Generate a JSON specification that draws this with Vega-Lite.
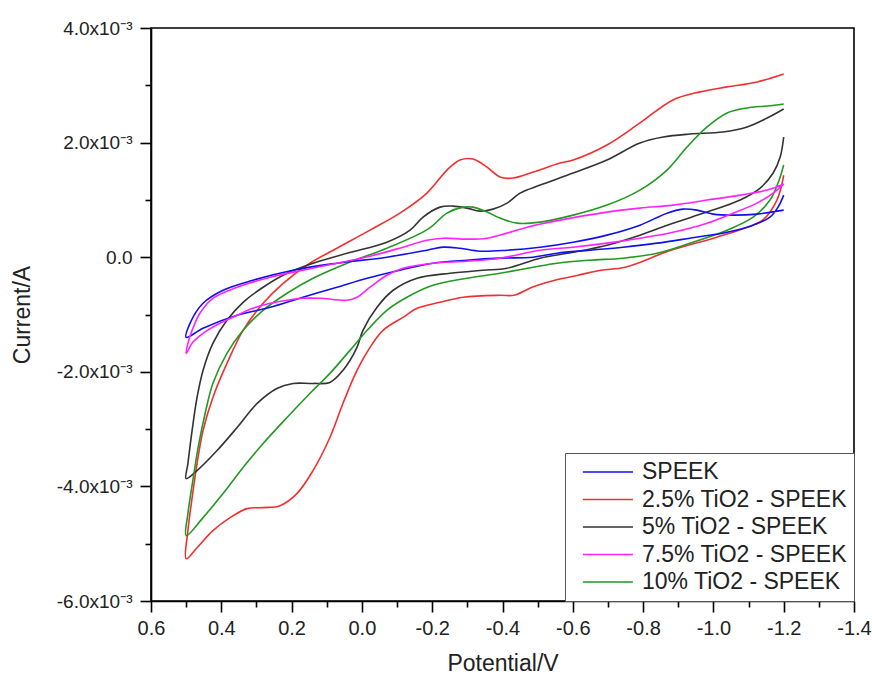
{
  "$schema": "https://vega.github.io/schema/vega-lite/v6.json",
  "width": 703,
  "height": 573,
  "autosize": {"type": "none"},
  "padding": {"left": 151, "top": 28, "right": 18, "bottom": 79},
  "background": "white",
  "config": {
    "font": "Liberation Sans",
    "view": {"stroke": "#000000", "strokeWidth": 1.6},
    "axis": {"grid": false, "domainColor": "#000000", "tickColor": "#000000", "labelColor": "#222222", "titleColor": "#222222", "labelFont": "Liberation Sans", "titleFont": "Liberation Sans", "titleFontWeight": "normal"}
  },
  "data": {"values": [
    {"s":"2.5% TiO2 - SPEEK","o":1,"x":-1.2,"y":0.00143},
    {"s":"2.5% TiO2 - SPEEK","o":2,"x":-1.181,"y":0.001},
    {"s":"2.5% TiO2 - SPEEK","o":3,"x":-1.141,"y":0.00065},
    {"s":"2.5% TiO2 - SPEEK","o":4,"x":-1.09,"y":0.00051},
    {"s":"2.5% TiO2 - SPEEK","o":5,"x":-1.01,"y":0.00035},
    {"s":"2.5% TiO2 - SPEEK","o":6,"x":-0.879,"y":0.00012},
    {"s":"2.5% TiO2 - SPEEK","o":7,"x":-0.749,"y":-0.000175},
    {"s":"2.5% TiO2 - SPEEK","o":8,"x":-0.68,"y":-0.000227},
    {"s":"2.5% TiO2 - SPEEK","o":9,"x":-0.615,"y":-0.000315},
    {"s":"2.5% TiO2 - SPEEK","o":10,"x":-0.549,"y":-0.000402},
    {"s":"2.5% TiO2 - SPEEK","o":11,"x":-0.484,"y":-0.000524},
    {"s":"2.5% TiO2 - SPEEK","o":12,"x":-0.433,"y":-0.000664},
    {"s":"2.5% TiO2 - SPEEK","o":13,"x":-0.393,"y":-0.000664},
    {"s":"2.5% TiO2 - SPEEK","o":14,"x":-0.288,"y":-0.000699},
    {"s":"2.5% TiO2 - SPEEK","o":15,"x":-0.222,"y":-0.000787},
    {"s":"2.5% TiO2 - SPEEK","o":16,"x":-0.157,"y":-0.000892},
    {"s":"2.5% TiO2 - SPEEK","o":17,"x":-0.117,"y":-0.001049},
    {"s":"2.5% TiO2 - SPEEK","o":18,"x":-0.06,"y":-0.001276},
    {"s":"2.5% TiO2 - SPEEK","o":19,"x":-0.023,"y":-0.001573},
    {"s":"2.5% TiO2 - SPEEK","o":20,"x":0.014,"y":-0.001976},
    {"s":"2.5% TiO2 - SPEEK","o":21,"x":0.054,"y":-0.002552},
    {"s":"2.5% TiO2 - SPEEK","o":22,"x":0.091,"y":-0.003147},
    {"s":"2.5% TiO2 - SPEEK","o":23,"x":0.139,"y":-0.003724},
    {"s":"2.5% TiO2 - SPEEK","o":24,"x":0.185,"y":-0.004126},
    {"s":"2.5% TiO2 - SPEEK","o":25,"x":0.233,"y":-0.004336},
    {"s":"2.5% TiO2 - SPEEK","o":26,"x":0.281,"y":-0.004371},
    {"s":"2.5% TiO2 - SPEEK","o":27,"x":0.327,"y":-0.004388},
    {"s":"2.5% TiO2 - SPEEK","o":28,"x":0.375,"y":-0.004545},
    {"s":"2.5% TiO2 - SPEEK","o":29,"x":0.424,"y":-0.004773},
    {"s":"2.5% TiO2 - SPEEK","o":30,"x":0.469,"y":-0.00507},
    {"s":"2.5% TiO2 - SPEEK","o":31,"x":0.5,"y":-0.005262},
    {"s":"2.5% TiO2 - SPEEK","o":32,"x":0.495,"y":-0.004773},
    {"s":"2.5% TiO2 - SPEEK","o":33,"x":0.483,"y":-0.004196},
    {"s":"2.5% TiO2 - SPEEK","o":34,"x":0.469,"y":-0.003601},
    {"s":"2.5% TiO2 - SPEEK","o":35,"x":0.452,"y":-0.003024},
    {"s":"2.5% TiO2 - SPEEK","o":36,"x":0.424,"y":-0.002448},
    {"s":"2.5% TiO2 - SPEEK","o":37,"x":0.384,"y":-0.001853},
    {"s":"2.5% TiO2 - SPEEK","o":38,"x":0.338,"y":-0.001276},
    {"s":"2.5% TiO2 - SPEEK","o":39,"x":0.281,"y":-0.000804},
    {"s":"2.5% TiO2 - SPEEK","o":40,"x":0.224,"y":-0.000455},
    {"s":"2.5% TiO2 - SPEEK","o":41,"x":0.148,"y":-0.000105},
    {"s":"2.5% TiO2 - SPEEK","o":42,"x":0.071,"y":0.000157},
    {"s":"2.5% TiO2 - SPEEK","o":43,"x":-0.023,"y":0.000472},
    {"s":"2.5% TiO2 - SPEEK","o":44,"x":-0.108,"y":0.000769},
    {"s":"2.5% TiO2 - SPEEK","o":45,"x":-0.185,"y":0.001119},
    {"s":"2.5% TiO2 - SPEEK","o":46,"x":-0.242,"y":0.001521},
    {"s":"2.5% TiO2 - SPEEK","o":47,"x":-0.279,"y":0.001696},
    {"s":"2.5% TiO2 - SPEEK","o":48,"x":-0.316,"y":0.001713},
    {"s":"2.5% TiO2 - SPEEK","o":49,"x":-0.356,"y":0.001573},
    {"s":"2.5% TiO2 - SPEEK","o":50,"x":-0.393,"y":0.001399},
    {"s":"2.5% TiO2 - SPEEK","o":51,"x":-0.43,"y":0.001381},
    {"s":"2.5% TiO2 - SPEEK","o":52,"x":-0.487,"y":0.001486},
    {"s":"2.5% TiO2 - SPEEK","o":53,"x":-0.564,"y":0.001643},
    {"s":"2.5% TiO2 - SPEEK","o":54,"x":-0.601,"y":0.001696},
    {"s":"2.5% TiO2 - SPEEK","o":55,"x":-0.697,"y":0.001958},
    {"s":"2.5% TiO2 - SPEEK","o":56,"x":-0.791,"y":0.002343},
    {"s":"2.5% TiO2 - SPEEK","o":57,"x":-0.885,"y":0.002745},
    {"s":"2.5% TiO2 - SPEEK","o":58,"x":-0.962,"y":0.002885},
    {"s":"2.5% TiO2 - SPEEK","o":59,"x":-1.039,"y":0.002972},
    {"s":"2.5% TiO2 - SPEEK","o":60,"x":-1.124,"y":0.003059},
    {"s":"2.5% TiO2 - SPEEK","o":61,"x":-1.2,"y":0.003199},

    {"s":"5% TiO2 - SPEEK","o":1,"x":-1.2,"y":0.002098},
    {"s":"5% TiO2 - SPEEK","o":2,"x":-1.19,"y":0.001748},
    {"s":"5% TiO2 - SPEEK","o":3,"x":-1.17,"y":0.001469},
    {"s":"5% TiO2 - SPEEK","o":4,"x":-1.133,"y":0.001206},
    {"s":"5% TiO2 - SPEEK","o":5,"x":-1.076,"y":0.000997},
    {"s":"5% TiO2 - SPEEK","o":6,"x":-0.982,"y":0.000787},
    {"s":"5% TiO2 - SPEEK","o":7,"x":-0.885,"y":0.000594},
    {"s":"5% TiO2 - SPEEK","o":8,"x":-0.791,"y":0.000385},
    {"s":"5% TiO2 - SPEEK","o":9,"x":-0.697,"y":0.00021},
    {"s":"5% TiO2 - SPEEK","o":10,"x":-0.601,"y":0.000087},
    {"s":"5% TiO2 - SPEEK","o":11,"x":-0.507,"y":-0.000017},
    {"s":"5% TiO2 - SPEEK","o":12,"x":-0.413,"y":-0.000192},
    {"s":"5% TiO2 - SPEEK","o":13,"x":-0.345,"y":-0.000227},
    {"s":"5% TiO2 - SPEEK","o":14,"x":-0.251,"y":-0.00028},
    {"s":"5% TiO2 - SPEEK","o":15,"x":-0.157,"y":-0.000367},
    {"s":"5% TiO2 - SPEEK","o":16,"x":-0.089,"y":-0.000577},
    {"s":"5% TiO2 - SPEEK","o":17,"x":-0.043,"y":-0.000874},
    {"s":"5% TiO2 - SPEEK","o":18,"x":-0.003,"y":-0.001276},
    {"s":"5% TiO2 - SPEEK","o":19,"x":0.014,"y":-0.001573},
    {"s":"5% TiO2 - SPEEK","o":20,"x":0.054,"y":-0.001976},
    {"s":"5% TiO2 - SPEEK","o":21,"x":0.091,"y":-0.002185},
    {"s":"5% TiO2 - SPEEK","o":22,"x":0.139,"y":-0.002203},
    {"s":"5% TiO2 - SPEEK","o":23,"x":0.196,"y":-0.002203},
    {"s":"5% TiO2 - SPEEK","o":24,"x":0.242,"y":-0.00229},
    {"s":"5% TiO2 - SPEEK","o":25,"x":0.298,"y":-0.002552},
    {"s":"5% TiO2 - SPEEK","o":26,"x":0.355,"y":-0.002972},
    {"s":"5% TiO2 - SPEEK","o":27,"x":0.412,"y":-0.003374},
    {"s":"5% TiO2 - SPEEK","o":28,"x":0.469,"y":-0.003724},
    {"s":"5% TiO2 - SPEEK","o":29,"x":0.5,"y":-0.003864},
    {"s":"5% TiO2 - SPEEK","o":30,"x":0.495,"y":-0.003601},
    {"s":"5% TiO2 - SPEEK","o":31,"x":0.483,"y":-0.003024},
    {"s":"5% TiO2 - SPEEK","o":32,"x":0.469,"y":-0.002448},
    {"s":"5% TiO2 - SPEEK","o":33,"x":0.452,"y":-0.001976},
    {"s":"5% TiO2 - SPEEK","o":34,"x":0.424,"y":-0.001503},
    {"s":"5% TiO2 - SPEEK","o":35,"x":0.384,"y":-0.001101},
    {"s":"5% TiO2 - SPEEK","o":36,"x":0.338,"y":-0.000787},
    {"s":"5% TiO2 - SPEEK","o":37,"x":0.281,"y":-0.000524},
    {"s":"5% TiO2 - SPEEK","o":38,"x":0.213,"y":-0.00028},
    {"s":"5% TiO2 - SPEEK","o":39,"x":0.139,"y":-0.000105},
    {"s":"5% TiO2 - SPEEK","o":40,"x":0.042,"y":0.00007},
    {"s":"5% TiO2 - SPEEK","o":41,"x":-0.071,"y":0.000262},
    {"s":"5% TiO2 - SPEEK","o":42,"x":-0.137,"y":0.000472},
    {"s":"5% TiO2 - SPEEK","o":43,"x":-0.174,"y":0.000699},
    {"s":"5% TiO2 - SPEEK","o":44,"x":-0.222,"y":0.000874},
    {"s":"5% TiO2 - SPEEK","o":45,"x":-0.259,"y":0.000892},
    {"s":"5% TiO2 - SPEEK","o":46,"x":-0.299,"y":0.000857},
    {"s":"5% TiO2 - SPEEK","o":47,"x":-0.336,"y":0.000804},
    {"s":"5% TiO2 - SPEEK","o":48,"x":-0.373,"y":0.000839},
    {"s":"5% TiO2 - SPEEK","o":49,"x":-0.413,"y":0.000944},
    {"s":"5% TiO2 - SPEEK","o":50,"x":-0.45,"y":0.001119},
    {"s":"5% TiO2 - SPEEK","o":51,"x":-0.507,"y":0.001259},
    {"s":"5% TiO2 - SPEEK","o":52,"x":-0.601,"y":0.001469},
    {"s":"5% TiO2 - SPEEK","o":53,"x":-0.697,"y":0.001696},
    {"s":"5% TiO2 - SPEEK","o":54,"x":-0.791,"y":0.001993},
    {"s":"5% TiO2 - SPEEK","o":55,"x":-0.857,"y":0.002098},
    {"s":"5% TiO2 - SPEEK","o":56,"x":-0.933,"y":0.00215},
    {"s":"5% TiO2 - SPEEK","o":57,"x":-1.027,"y":0.002185},
    {"s":"5% TiO2 - SPEEK","o":58,"x":-1.096,"y":0.002273},
    {"s":"5% TiO2 - SPEEK","o":59,"x":-1.153,"y":0.00243},
    {"s":"5% TiO2 - SPEEK","o":60,"x":-1.2,"y":0.002587},

    {"s":"10% TiO2 - SPEEK","o":1,"x":-1.2,"y":0.001608},
    {"s":"10% TiO2 - SPEEK","o":2,"x":-1.184,"y":0.001294},
    {"s":"10% TiO2 - SPEEK","o":3,"x":-1.161,"y":0.000997},
    {"s":"10% TiO2 - SPEEK","o":4,"x":-1.113,"y":0.000699},
    {"s":"10% TiO2 - SPEEK","o":5,"x":-1.039,"y":0.000472},
    {"s":"10% TiO2 - SPEEK","o":6,"x":-0.933,"y":0.000245},
    {"s":"10% TiO2 - SPEEK","o":7,"x":-0.84,"y":0.00007},
    {"s":"10% TiO2 - SPEEK","o":8,"x":-0.743,"y":-0.000017},
    {"s":"10% TiO2 - SPEEK","o":9,"x":-0.649,"y":-0.000052},
    {"s":"10% TiO2 - SPEEK","o":10,"x":-0.555,"y":-0.000105},
    {"s":"10% TiO2 - SPEEK","o":11,"x":-0.487,"y":-0.000175},
    {"s":"10% TiO2 - SPEEK","o":12,"x":-0.393,"y":-0.00028},
    {"s":"10% TiO2 - SPEEK","o":13,"x":-0.299,"y":-0.000367},
    {"s":"10% TiO2 - SPEEK","o":14,"x":-0.202,"y":-0.00049},
    {"s":"10% TiO2 - SPEEK","o":15,"x":-0.128,"y":-0.000699},
    {"s":"10% TiO2 - SPEEK","o":16,"x":-0.071,"y":-0.000927},
    {"s":"10% TiO2 - SPEEK","o":17,"x":-0.015,"y":-0.001276},
    {"s":"10% TiO2 - SPEEK","o":18,"x":0.034,"y":-0.001626},
    {"s":"10% TiO2 - SPEEK","o":19,"x":0.091,"y":-0.002028},
    {"s":"10% TiO2 - SPEEK","o":20,"x":0.148,"y":-0.002378},
    {"s":"10% TiO2 - SPEEK","o":21,"x":0.213,"y":-0.002797},
    {"s":"10% TiO2 - SPEEK","o":22,"x":0.281,"y":-0.003252},
    {"s":"10% TiO2 - SPEEK","o":23,"x":0.338,"y":-0.003671},
    {"s":"10% TiO2 - SPEEK","o":24,"x":0.395,"y":-0.004126},
    {"s":"10% TiO2 - SPEEK","o":25,"x":0.452,"y":-0.004545},
    {"s":"10% TiO2 - SPEEK","o":26,"x":0.5,"y":-0.00486},
    {"s":"10% TiO2 - SPEEK","o":27,"x":0.495,"y":-0.004476},
    {"s":"10% TiO2 - SPEEK","o":28,"x":0.481,"y":-0.003899},
    {"s":"10% TiO2 - SPEEK","o":29,"x":0.466,"y":-0.003322},
    {"s":"10% TiO2 - SPEEK","o":30,"x":0.446,"y":-0.002727},
    {"s":"10% TiO2 - SPEEK","o":31,"x":0.424,"y":-0.002203},
    {"s":"10% TiO2 - SPEEK","o":32,"x":0.384,"y":-0.001678},
    {"s":"10% TiO2 - SPEEK","o":33,"x":0.338,"y":-0.001276},
    {"s":"10% TiO2 - SPEEK","o":34,"x":0.281,"y":-0.000927},
    {"s":"10% TiO2 - SPEEK","o":35,"x":0.213,"y":-0.000629},
    {"s":"10% TiO2 - SPEEK","o":36,"x":0.139,"y":-0.000367},
    {"s":"10% TiO2 - SPEEK","o":37,"x":0.042,"y":-0.000105},
    {"s":"10% TiO2 - SPEEK","o":38,"x":-0.071,"y":0.000157},
    {"s":"10% TiO2 - SPEEK","o":39,"x":-0.188,"y":0.00049},
    {"s":"10% TiO2 - SPEEK","o":40,"x":-0.242,"y":0.000769},
    {"s":"10% TiO2 - SPEEK","o":41,"x":-0.288,"y":0.000874},
    {"s":"10% TiO2 - SPEEK","o":42,"x":-0.316,"y":0.000874},
    {"s":"10% TiO2 - SPEEK","o":43,"x":-0.356,"y":0.000787},
    {"s":"10% TiO2 - SPEEK","o":44,"x":-0.393,"y":0.000682},
    {"s":"10% TiO2 - SPEEK","o":45,"x":-0.441,"y":0.000594},
    {"s":"10% TiO2 - SPEEK","o":46,"x":-0.507,"y":0.000612},
    {"s":"10% TiO2 - SPEEK","o":47,"x":-0.601,"y":0.000734},
    {"s":"10% TiO2 - SPEEK","o":48,"x":-0.697,"y":0.000909},
    {"s":"10% TiO2 - SPEEK","o":49,"x":-0.791,"y":0.001171},
    {"s":"10% TiO2 - SPEEK","o":50,"x":-0.868,"y":0.001521},
    {"s":"10% TiO2 - SPEEK","o":51,"x":-0.925,"y":0.001923},
    {"s":"10% TiO2 - SPEEK","o":52,"x":-0.982,"y":0.002273},
    {"s":"10% TiO2 - SPEEK","o":53,"x":-1.039,"y":0.002517},
    {"s":"10% TiO2 - SPEEK","o":54,"x":-1.096,"y":0.002605},
    {"s":"10% TiO2 - SPEEK","o":55,"x":-1.153,"y":0.00264},
    {"s":"10% TiO2 - SPEEK","o":56,"x":-1.2,"y":0.002675},

    {"s":"SPEEK","o":1,"x":-1.2,"y":0.001084},
    {"s":"SPEEK","o":2,"x":-1.184,"y":0.000874},
    {"s":"SPEEK","o":3,"x":-1.161,"y":0.000699},
    {"s":"SPEEK","o":4,"x":-1.113,"y":0.000559},
    {"s":"SPEEK","o":5,"x":-1.039,"y":0.000437},
    {"s":"SPEEK","o":6,"x":-0.933,"y":0.000332},
    {"s":"SPEEK","o":7,"x":-0.84,"y":0.000245},
    {"s":"SPEEK","o":8,"x":-0.743,"y":0.000175},
    {"s":"SPEEK","o":9,"x":-0.649,"y":0.000122},
    {"s":"SPEEK","o":10,"x":-0.555,"y":0.00007},
    {"s":"SPEEK","o":11,"x":-0.487,"y":0.0},
    {"s":"SPEEK","o":12,"x":-0.393,"y":-0.000017},
    {"s":"SPEEK","o":13,"x":-0.299,"y":-0.000052},
    {"s":"SPEEK","o":14,"x":-0.202,"y":-0.000105},
    {"s":"SPEEK","o":15,"x":-0.108,"y":-0.000227},
    {"s":"SPEEK","o":16,"x":-0.015,"y":-0.000367},
    {"s":"SPEEK","o":17,"x":0.071,"y":-0.000524},
    {"s":"SPEEK","o":18,"x":0.168,"y":-0.000699},
    {"s":"SPEEK","o":19,"x":0.261,"y":-0.000874},
    {"s":"SPEEK","o":20,"x":0.355,"y":-0.001014},
    {"s":"SPEEK","o":21,"x":0.452,"y":-0.001241},
    {"s":"SPEEK","o":22,"x":0.5,"y":-0.001399},
    {"s":"SPEEK","o":23,"x":0.489,"y":-0.001154},
    {"s":"SPEEK","o":24,"x":0.452,"y":-0.000804},
    {"s":"SPEEK","o":25,"x":0.395,"y":-0.000577},
    {"s":"SPEEK","o":26,"x":0.31,"y":-0.000402},
    {"s":"SPEEK","o":27,"x":0.196,"y":-0.000227},
    {"s":"SPEEK","o":28,"x":0.071,"y":-0.000105},
    {"s":"SPEEK","o":29,"x":-0.071,"y":0.0},
    {"s":"SPEEK","o":30,"x":-0.185,"y":0.000122},
    {"s":"SPEEK","o":31,"x":-0.231,"y":0.000175},
    {"s":"SPEEK","o":32,"x":-0.279,"y":0.000157},
    {"s":"SPEEK","o":33,"x":-0.336,"y":0.000105},
    {"s":"SPEEK","o":34,"x":-0.413,"y":0.000122},
    {"s":"SPEEK","o":35,"x":-0.507,"y":0.000175},
    {"s":"SPEEK","o":36,"x":-0.601,"y":0.000262},
    {"s":"SPEEK","o":37,"x":-0.697,"y":0.000385},
    {"s":"SPEEK","o":38,"x":-0.791,"y":0.000559},
    {"s":"SPEEK","o":39,"x":-0.868,"y":0.000769},
    {"s":"SPEEK","o":40,"x":-0.913,"y":0.000839},
    {"s":"SPEEK","o":41,"x":-0.953,"y":0.000822},
    {"s":"SPEEK","o":42,"x":-0.999,"y":0.000752},
    {"s":"SPEEK","o":43,"x":-1.056,"y":0.000734},
    {"s":"SPEEK","o":44,"x":-1.124,"y":0.000752},
    {"s":"SPEEK","o":45,"x":-1.2,"y":0.000822},

    {"s":"7.5% TiO2 - SPEEK","o":1,"x":-1.2,"y":0.001276},
    {"s":"7.5% TiO2 - SPEEK","o":2,"x":-1.17,"y":0.001119},
    {"s":"7.5% TiO2 - SPEEK","o":3,"x":-1.124,"y":0.000944},
    {"s":"7.5% TiO2 - SPEEK","o":4,"x":-1.056,"y":0.000769},
    {"s":"7.5% TiO2 - SPEEK","o":5,"x":-0.982,"y":0.000594},
    {"s":"7.5% TiO2 - SPEEK","o":6,"x":-0.885,"y":0.000437},
    {"s":"7.5% TiO2 - SPEEK","o":7,"x":-0.791,"y":0.000332},
    {"s":"7.5% TiO2 - SPEEK","o":8,"x":-0.697,"y":0.000245},
    {"s":"7.5% TiO2 - SPEEK","o":9,"x":-0.601,"y":0.000175},
    {"s":"7.5% TiO2 - SPEEK","o":10,"x":-0.507,"y":0.000122},
    {"s":"7.5% TiO2 - SPEEK","o":11,"x":-0.393,"y":-0.000017},
    {"s":"7.5% TiO2 - SPEEK","o":12,"x":-0.299,"y":-0.00007},
    {"s":"7.5% TiO2 - SPEEK","o":13,"x":-0.202,"y":-0.000105},
    {"s":"7.5% TiO2 - SPEEK","o":14,"x":-0.117,"y":-0.000192},
    {"s":"7.5% TiO2 - SPEEK","o":15,"x":-0.071,"y":-0.000315},
    {"s":"7.5% TiO2 - SPEEK","o":16,"x":-0.023,"y":-0.000524},
    {"s":"7.5% TiO2 - SPEEK","o":17,"x":0.014,"y":-0.000699},
    {"s":"7.5% TiO2 - SPEEK","o":18,"x":0.042,"y":-0.000752},
    {"s":"7.5% TiO2 - SPEEK","o":19,"x":0.119,"y":-0.000717},
    {"s":"7.5% TiO2 - SPEEK","o":20,"x":0.168,"y":-0.000717},
    {"s":"7.5% TiO2 - SPEEK","o":21,"x":0.213,"y":-0.000752},
    {"s":"7.5% TiO2 - SPEEK","o":22,"x":0.261,"y":-0.000804},
    {"s":"7.5% TiO2 - SPEEK","o":23,"x":0.31,"y":-0.000892},
    {"s":"7.5% TiO2 - SPEEK","o":24,"x":0.355,"y":-0.001014},
    {"s":"7.5% TiO2 - SPEEK","o":25,"x":0.404,"y":-0.001154},
    {"s":"7.5% TiO2 - SPEEK","o":26,"x":0.452,"y":-0.001329},
    {"s":"7.5% TiO2 - SPEEK","o":27,"x":0.481,"y":-0.001486},
    {"s":"7.5% TiO2 - SPEEK","o":28,"x":0.5,"y":-0.001678},
    {"s":"7.5% TiO2 - SPEEK","o":29,"x":0.495,"y":-0.001503},
    {"s":"7.5% TiO2 - SPEEK","o":30,"x":0.483,"y":-0.001276},
    {"s":"7.5% TiO2 - SPEEK","o":31,"x":0.461,"y":-0.000979},
    {"s":"7.5% TiO2 - SPEEK","o":32,"x":0.424,"y":-0.000717},
    {"s":"7.5% TiO2 - SPEEK","o":33,"x":0.355,"y":-0.000524},
    {"s":"7.5% TiO2 - SPEEK","o":34,"x":0.261,"y":-0.00035},
    {"s":"7.5% TiO2 - SPEEK","o":35,"x":0.168,"y":-0.000227},
    {"s":"7.5% TiO2 - SPEEK","o":36,"x":0.071,"y":-0.000105},
    {"s":"7.5% TiO2 - SPEEK","o":37,"x":-0.023,"y":0.000017},
    {"s":"7.5% TiO2 - SPEEK","o":38,"x":-0.117,"y":0.000175},
    {"s":"7.5% TiO2 - SPEEK","o":39,"x":-0.185,"y":0.000297},
    {"s":"7.5% TiO2 - SPEEK","o":40,"x":-0.231,"y":0.000332},
    {"s":"7.5% TiO2 - SPEEK","o":41,"x":-0.299,"y":0.000315},
    {"s":"7.5% TiO2 - SPEEK","o":42,"x":-0.356,"y":0.000332},
    {"s":"7.5% TiO2 - SPEEK","o":43,"x":-0.413,"y":0.00042},
    {"s":"7.5% TiO2 - SPEEK","o":44,"x":-0.47,"y":0.000524},
    {"s":"7.5% TiO2 - SPEEK","o":45,"x":-0.564,"y":0.000647},
    {"s":"7.5% TiO2 - SPEEK","o":46,"x":-0.697,"y":0.000787},
    {"s":"7.5% TiO2 - SPEEK","o":47,"x":-0.791,"y":0.000857},
    {"s":"7.5% TiO2 - SPEEK","o":48,"x":-0.885,"y":0.000909},
    {"s":"7.5% TiO2 - SPEEK","o":49,"x":-0.982,"y":0.000997},
    {"s":"7.5% TiO2 - SPEEK","o":50,"x":-1.076,"y":0.001084},
    {"s":"7.5% TiO2 - SPEEK","o":51,"x":-1.153,"y":0.001171},
    {"s":"7.5% TiO2 - SPEEK","o":52,"x":-1.2,"y":0.001276}
  ]},
  "layer": [
    {
      "mark": {"type": "line", "interpolate": "catmull-rom", "strokeWidth": 1.6},
      "encoding": {
        "x": {"field": "x", "type": "quantitative",
          "scale": {"domain": [-1.4, 0.6], "reverse": true, "nice": false, "zero": false},
          "axis": {"orient": "bottom", "values": [0.6, 0.4, 0.2, 0, -0.2, -0.4, -0.6, -0.8, -1, -1.2, -1.4],
            "labelExpr": "(datum.value < 0 ? '-' : '') + format(abs(datum.value), '.1f')",
            "title": "Potential/V", "titleFontSize": 23, "labelFontSize": 20, "tickSize": 11, "tickWidth": 1.6, "domainWidth": 1.6, "labelPadding": 6, "titlePadding": 14, "labelFlush": false}},
        "y": {"field": "y", "type": "quantitative",
          "scale": {"domain": [-0.006, 0.004], "nice": false, "zero": false},
          "axis": {"orient": "left", "values": [-0.006, -0.004, -0.002, 0, 0.002, 0.004],
            "labelExpr": "datum.value == 0 ? '0.0' : (datum.value < 0 ? '-' : '') + format(abs(datum.value) * 1000, '.1f') + 'x10⁻³'",
            "title": "Current/A", "titleFontSize": 23, "labelFontSize": 19, "tickSize": 11, "tickWidth": 1.6, "domainWidth": 1.6, "labelPadding": 8, "titlePadding": 22, "labelFlush": false}},
        "color": {"field": "s", "type": "nominal",
          "scale": {"domain": ["SPEEK", "2.5% TiO2 - SPEEK", "5% TiO2 - SPEEK", "7.5% TiO2 - SPEEK", "10% TiO2 - SPEEK"],
            "range": ["#1010ee", "#f03030", "#333333", "#ff22ff", "#229922"]},
          "legend": {"title": null, "orient": "bottom-right", "offset": 0, "symbolType": "M-0.1,0H4.45", "symbolSize": 484, "symbolStrokeWidth": 1.5,
            "labelFontSize": 23, "labelColor": "#222222", "labelFont": "Liberation Sans", "rowPadding": 3.5, "padding": 7, "strokeColor": "#555555", "fillColor": "white", "labelOffset": 46, "labelLimit": 400}},
        "order": {"field": "o", "type": "quantitative"}
      }
    },
    {
      "mark": {"type": "line", "strokeOpacity": 0},
      "encoding": {
        "x": {"field": "x", "type": "quantitative",
          "axis": {"orient": "bottom", "values": [0.5, 0.3, 0.1, -0.1, -0.3, -0.5, -0.7, -0.9, -1.1, -1.3], "labels": false, "domain": false, "title": null, "tickSize": 6, "tickWidth": 1.6}},
        "y": {"field": "y", "type": "quantitative",
          "axis": {"orient": "left", "values": [-0.005, -0.003, -0.001, 0.001, 0.003], "labels": false, "domain": false, "title": null, "tickSize": 6, "tickWidth": 1.6}},
        "detail": {"field": "s"},
        "order": {"field": "o", "type": "quantitative"}
      }
    }
  ],
  "resolve": {"axis": {"x": "independent", "y": "independent"}}
}
